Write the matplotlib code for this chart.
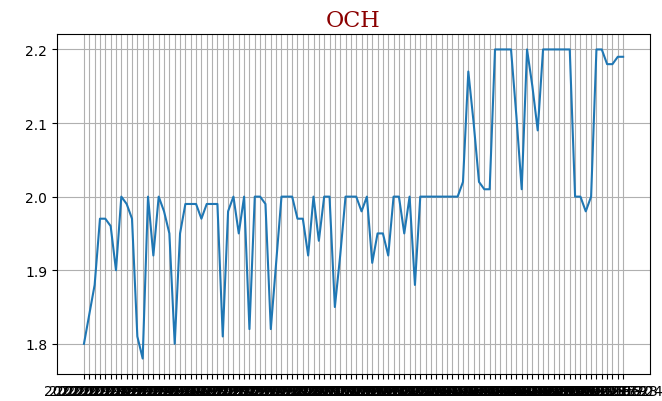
import matplotlib
matplotlib.use("Agg")
import matplotlib.pyplot as plt
import pandas as pd

# OCH series, one value per trading day
och = [
    1.80, 1.84, 1.88, 1.97, 1.97, 1.96, 1.90, 2.00, 1.99, 1.97,
    1.81, 1.78, 2.00, 1.92, 2.00, 1.98, 1.95, 1.80, 1.95, 1.99,
    1.99, 1.99, 1.97, 1.99, 1.99, 1.99, 1.81, 1.98, 2.00, 1.95,
    2.00, 1.82, 2.00, 2.00, 1.99, 1.82, 1.91, 2.00, 2.00, 2.00,
    1.97, 1.97, 1.92, 2.00, 1.94, 2.00, 2.00, 1.85, 1.92, 2.00,
    2.00, 2.00, 1.98, 2.00, 1.91, 1.95, 1.95, 1.92, 2.00, 2.00,
    1.95, 2.00, 1.88, 2.00, 2.00, 2.00, 2.00, 2.00, 2.00, 2.00,
    2.00, 2.02, 2.17, 2.10, 2.02, 2.01, 2.01, 2.20, 2.20, 2.20,
    2.20, 2.11, 2.01, 2.20, 2.15, 2.09, 2.20, 2.20, 2.20, 2.20,
    2.20, 2.20, 2.00, 2.00, 1.98, 2.00, 2.20, 2.20, 2.18, 2.18,
    2.19, 2.19,
]
# the date labels are unreadable in the source (they overlap), so use trading days
dates = [d.strftime("%Y-%m-%d") for d in pd.bdate_range("2022-01-03", periods=len(och))]

fig = plt.figure(figsize=(6.62, 4.02), dpi=100)
ax = fig.add_axes([0.0861, 0.0672, 0.8959, 0.8458])

ax.plot(dates, och, color="tab:blue")
ax.grid(True)
ax.set_title("OCH", fontsize=16, color="darkred", family="serif")

fig.savefig("out.png", dpi=100)
